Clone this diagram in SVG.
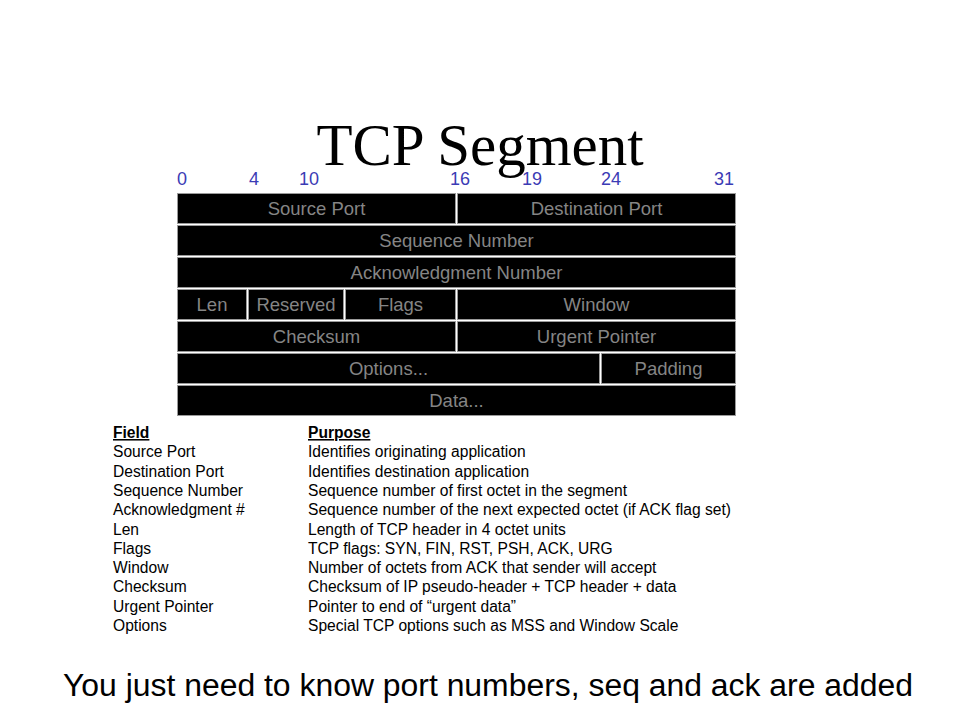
<svg xmlns="http://www.w3.org/2000/svg" width="960" height="720" viewBox="0 0 960 720">
<style>
.cell{fill:#000;stroke:#9a9a9a;stroke-width:1}
.ct{font-family:"Liberation Sans",Arial,sans-serif;font-size:18.5px;fill:#858585;text-anchor:middle}
.bit{font-family:"Liberation Sans",Arial,sans-serif;font-size:18px;fill:#3b3bb5;text-anchor:middle}
.tb{font-family:"Liberation Sans",Arial,sans-serif;font-size:15.6px;fill:#000}
.hd{font-weight:bold;text-decoration:underline}
</style>
<rect width="960" height="720" fill="#fff"/>
<g id="bits">
<text class="bit" x="182" y="185">0</text>
<text class="bit" x="254" y="185">4</text>
<text class="bit" x="309" y="185">10</text>
<text class="bit" x="460" y="185">16</text>
<text class="bit" x="532" y="185">19</text>
<text class="bit" x="611" y="185">24</text>
<text class="bit" x="724" y="185">31</text>
</g>
<text id="title" x="480" y="165" font-family="'Liberation Serif','Times New Roman',serif" font-size="59" text-anchor="middle" fill="#000">TCP Segment</text>
<g id="header">
<g id="source-port"><rect class="cell" x="177.5" y="193.5" width="278" height="30"/><text class="ct" x="316.5" y="215">Source Port</text></g>
<g id="destination-port"><rect class="cell" x="457.5" y="193.5" width="278" height="30"/><text class="ct" x="596.5" y="215">Destination Port</text></g>
<g id="sequence-number"><rect class="cell" x="177.5" y="225.5" width="558" height="30"/><text class="ct" x="456.5" y="247">Sequence Number</text></g>
<g id="ack-number"><rect class="cell" x="177.5" y="257.5" width="558" height="30"/><text class="ct" x="456.5" y="279">Acknowledgment Number</text></g>
<g id="len"><rect class="cell" x="177.5" y="289.5" width="69" height="30"/><text class="ct" x="212" y="311">Len</text></g>
<g id="reserved"><rect class="cell" x="248.5" y="289.5" width="95" height="30"/><text class="ct" x="296" y="311">Reserved</text></g>
<g id="flags"><rect class="cell" x="345.5" y="289.5" width="110" height="30"/><text class="ct" x="400.5" y="311">Flags</text></g>
<g id="window"><rect class="cell" x="457.5" y="289.5" width="278" height="30"/><text class="ct" x="596.5" y="311">Window</text></g>
<g id="checksum"><rect class="cell" x="177.5" y="321.5" width="278" height="30"/><text class="ct" x="316.5" y="343">Checksum</text></g>
<g id="urgent-pointer"><rect class="cell" x="457.5" y="321.5" width="278" height="30"/><text class="ct" x="596.5" y="343">Urgent Pointer</text></g>
<g id="options"><rect class="cell" x="177.5" y="353.5" width="422" height="30"/><text class="ct" x="388.5" y="375">Options...</text></g>
<g id="padding"><rect class="cell" x="601.5" y="353.5" width="134" height="30"/><text class="ct" x="668.5" y="375">Padding</text></g>
<g id="data"><rect class="cell" x="177.5" y="385.5" width="558" height="30"/><text class="ct" x="456.5" y="407">Data...</text></g>
</g>
<g id="connectors"></g>
<g id="table">
<text class="tb hd" x="113" y="438">Field</text>
<text class="tb hd" x="308" y="438">Purpose</text>
<text class="tb" x="113" y="457.3">Source Port</text><text class="tb" x="308" y="457.3">Identifies originating application</text>
<text class="tb" x="113" y="476.6">Destination Port</text><text class="tb" x="308" y="476.6">Identifies destination application</text>
<text class="tb" x="113" y="495.9">Sequence Number</text><text class="tb" x="308" y="495.9">Sequence number of first octet in the segment</text>
<text class="tb" x="113" y="515.2">Acknowledgment #</text><text class="tb" x="308" y="515.2">Sequence number of the next expected octet (if ACK flag set)</text>
<text class="tb" x="113" y="534.5">Len</text><text class="tb" x="308" y="534.5">Length of TCP header in 4 octet units</text>
<text class="tb" x="113" y="553.8">Flags</text><text class="tb" x="308" y="553.8">TCP flags: SYN, FIN, RST, PSH, ACK, URG</text>
<text class="tb" x="113" y="573.1">Window</text><text class="tb" x="308" y="573.1">Number of octets  from ACK that sender will accept</text>
<text class="tb" x="113" y="592.4">Checksum</text><text class="tb" x="308" y="592.4">Checksum of IP pseudo-header + TCP header + data</text>
<text class="tb" x="113" y="611.7">Urgent Pointer</text><text class="tb" x="308" y="611.7">Pointer to end of “urgent data”</text>
<text class="tb" x="113" y="631">Options</text><text class="tb" x="308" y="631">Special TCP options such as MSS and Window Scale</text>
</g>
<text id="footer" x="488" y="696" font-family="'Liberation Sans',Arial,sans-serif" font-size="31" text-anchor="middle" textLength="850" lengthAdjust="spacingAndGlyphs" fill="#000">You just need to know port numbers, seq and ack are added</text>
</svg>
